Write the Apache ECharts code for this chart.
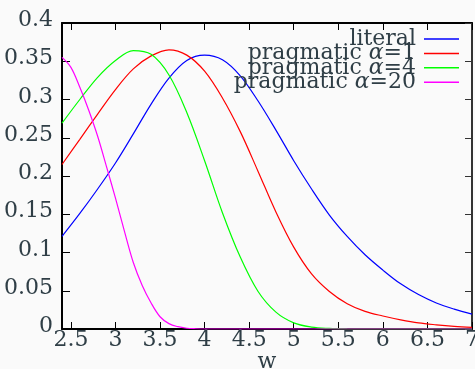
<!DOCTYPE html>
<html><head><meta charset="utf-8">
<script src="https://cdn.jsdelivr.net/npm/echarts@6/dist/echarts.min.js"></script>
<style>html,body{margin:0;padding:0;background:#fafafa}#c{width:475px;height:369px}</style>
</head><body><div id="c"></div>
<script>
const seriesNames = ['literal', 'pragmatic α=1', 'pragmatic α=4', 'pragmatic α=20'];
const seriesColors = ['#0000ff', '#ff0000', '#00ff00', '#ff00ff'];
const xGrid = [2.4,2.6,2.8,3.0,3.2,3.4,3.6,3.8,4.0,4.2,4.4,4.6,4.8,5.0,5.2,5.4,5.6,5.8,6.0,6.2,6.4,6.6,6.8,7.0];
const yLiteral = [0.121,0.151,0.183,0.217,0.255,0.294,0.328,0.351,0.358,0.352,0.331,0.298,0.260,0.220,0.183,0.149,0.121,0.097,0.077,0.059,0.045,0.034,0.026,0.0195];
const yAlpha1 = [0.215,0.248,0.281,0.313,0.340,0.357,0.365,0.358,0.337,0.302,0.258,0.206,0.153,0.107,0.072,0.049,0.033,0.023,0.017,0.012,0.008,0.0055,0.0035,0.002];
const yAlpha4 = [0.269,0.300,0.329,0.351,0.364,0.359,0.332,0.283,0.220,0.152,0.094,0.049,0.022,0.008,0.0025,0.0007,0.0001,0,0,0,0,0,0,0];
const xAlpha20 = [2.4,2.5,2.6,2.7,2.8,2.9,3.0,3.1,3.2,3.3,3.4,3.5,3.6,3.7,3.8,3.9,4.0,4.5,5.0,5.5,6.0,6.5,7.0];
const yAlpha20 = [0.355,0.342,0.316,0.286,0.252,0.212,0.171,0.128,0.087,0.057,0.034,0.016,0.007,0.003,0.001,0.0003,0,0,0,0,0,0,0];
const xTicks = [2.5,3,3.5,4,4.5,5,5.5,6,6.5,7];
const xMin = 2.4, xMax = 7, yMin = 0, yMax = 0.4, yStep = 0.05;

const pairs = (xs, ys) => xs.map((x, i) => [x, ys[i]]);
const allData = [pairs(xGrid, yLiteral), pairs(xGrid, yAlpha1), pairs(xGrid, yAlpha4), pairs(xAlpha20, yAlpha20)];

const FONT = 'DejaVu Serif';
const TXT = '#2f3e46';
const chart = echarts.init(document.getElementById('c'), null, {renderer: 'canvas'});
chart.setOption({
  backgroundColor: '#fafafa',
  animation: false,
  textStyle: {fontFamily: FONT},
  grid: {left: 62, top: 23, right: 3, bottom: 40, show: false, containLabel: false, outerBoundsMode: 'none'},
  legend: {
    orient: 'vertical', align: 'right', right: 16, top: 28, padding: 0,
    icon: 'rect', itemWidth: 35, itemHeight: 1.5, itemGap: -7.6,
    data: seriesNames,
    formatter: n => n.replace('α', '{i|α}'),
    textStyle: {fontFamily: FONT, fontSize: 22, color: TXT, padding: [0, 3, 0, 0],
      rich: {i: {fontFamily: FONT, fontSize: 22, fontStyle: 'italic', color: TXT}}}
  },
  xAxis: [{
    type: 'value', min: xMin, max: xMax, position: 'bottom',
    name: 'w', nameLocation: 'middle', nameGap: 22, nameMoveOverlap: false,
    nameTextStyle: {fontFamily: FONT, fontSize: 22, color: TXT},
    axisLine: {show: true, lineStyle: {color: '#000', width: 2}},
    axisTick: {show: true, inside: true, length: 7, customValues: xTicks, lineStyle: {color: '#000', width: 1}},
    axisLabel: {customValues: xTicks, fontFamily: FONT, fontSize: 22, color: TXT, margin: 0},
    splitLine: {show: false}
  }, {
    type: 'value', min: xMin, max: xMax, position: 'top',
    axisLine: {show: true, onZero: false, lineStyle: {color: '#000', width: 2}},
    axisTick: {show: true, inside: true, length: 7, customValues: xTicks, lineStyle: {color: '#000', width: 1}},
    axisLabel: {show: false}, splitLine: {show: false}
  }],
  yAxis: [{
    type: 'value', min: yMin, max: yMax, interval: yStep, position: 'left',
    axisLine: {show: true, lineStyle: {color: '#000', width: 2}},
    axisTick: {show: true, inside: true, length: 8, lineStyle: {color: '#000', width: 1}},
    axisLabel: {fontFamily: FONT, fontSize: 22, color: TXT, margin: 9, verticalAlign: 'bottom', lineHeight: 5},
    splitLine: {show: false}
  }, {
    type: 'value', min: yMin, max: yMax, interval: yStep, position: 'right',
    axisLine: {show: true, onZero: false, lineStyle: {color: '#333', width: 2}},
    axisTick: {show: true, inside: true, length: 7, lineStyle: {color: '#333', width: 1}},
    axisLabel: {show: false}, splitLine: {show: false}
  }],
  series: seriesNames.map((n, i) => ({
    name: n, type: 'line', xAxisIndex: 0, yAxisIndex: 0,
    data: allData[i], smooth: 0.35,
    symbol: 'none', showSymbol: false,
    lineStyle: {color: seriesColors[i], width: 1.2},
    itemStyle: {color: seriesColors[i]},
    z: 2
  }))
});
</script></body></html>
